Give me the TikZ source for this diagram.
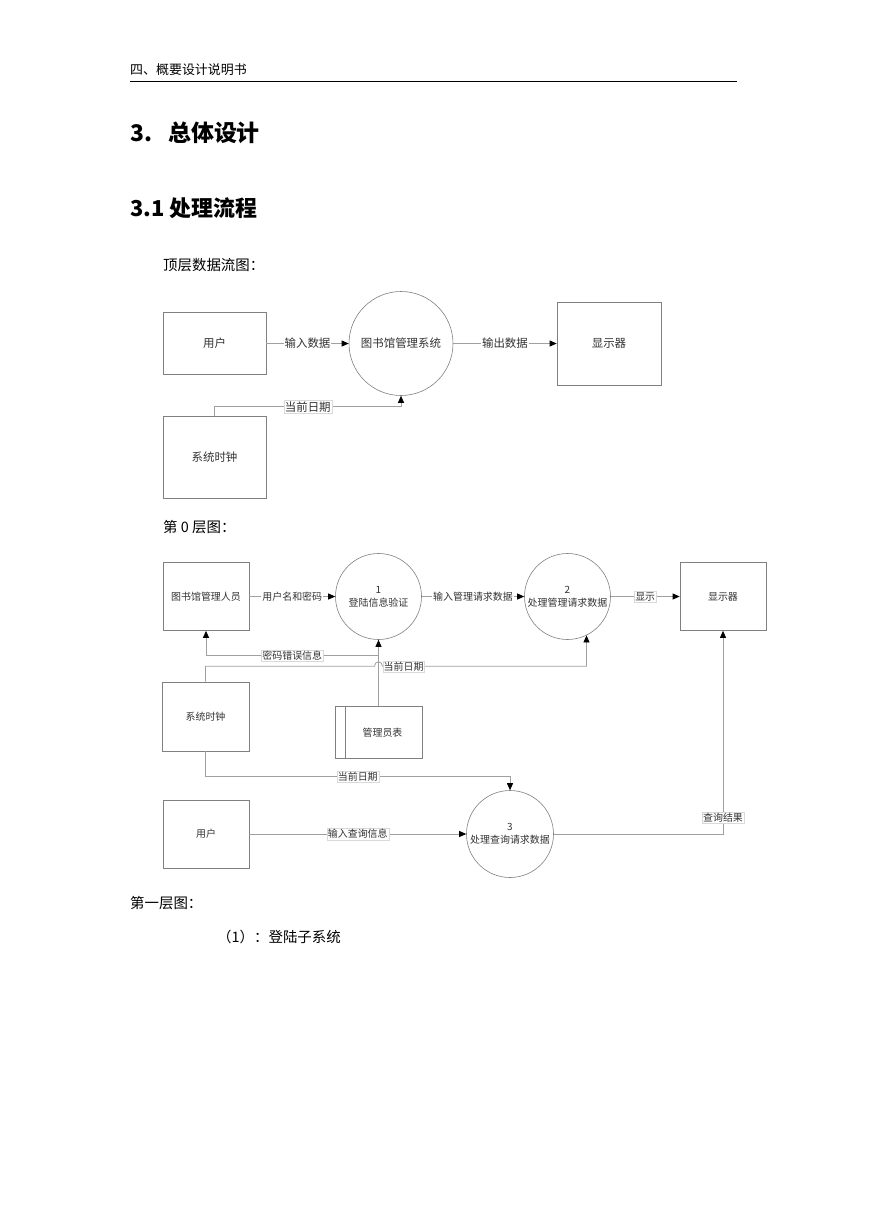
\documentclass[tikz,border=0pt]{standalone}
\usepackage{fontspec}
\setmainfont{Noto Sans CJK SC}
\usetikzlibrary{arrows.meta,positioning,calc}
\definecolor{linegray}{HTML}{A0A0A0}
\definecolor{boxgray}{HTML}{808080}
\definecolor{txtgray}{HTML}{333333}
\tikzset{>={Triangle[length=7bp,width=6bp]}}
\tikzset{entity/.style={draw=boxgray,line width=0.7pt,text=txtgray,inner sep=0pt},
         proc/.style={circle,draw=boxgray,line width=0.6pt,text=txtgray,inner sep=0pt,align=center},
         flow/.style={draw=linegray,line width=0.8pt,-{Triangle[length=7bp,width=6bp,color=black]}},
         lab/.style={fill=white,draw=gray!30,line width=0.3pt,inner sep=1pt,text=txtgray},
         big/.style={font=\fontsize{11.5}{13}\selectfont},
         small/.style={font=\fontsize{10}{13}\selectfont},
         plain text/.style={anchor=west,inner sep=0pt},
            }

\begin{document}
\begin{tikzpicture}[x=1bp,y=-1bp]
    \useasboundingbox[fill=white] (0,0) rectangle (869,1228);

    % page header and headings
    \node[plain text,font=\fontsize{13}{15}\selectfont] (hdr) at (130,70) {四、概要设计说明书};
    \draw[line width=1bp] (130,81) -- (737,81);
    \node[plain text,font=\fontsize{23}{26}\selectfont\bfseries] (sec) at (130,133) {3.\hspace{16bp}总体设计};
    \node[plain text,font=\fontsize{22}{25}\selectfont\bfseries] (sub) at (130,208) {3.1 处理流程};
    \node[plain text,font=\fontsize{14.5}{17}\selectfont] (cap1) at (163,265) {顶层数据流图：};

    % top level
    \node[entity,big,minimum width=103bp,minimum height=62bp] (user) at (214.5,343.5) {用户};
    \node[proc,big,minimum size=104bp] (sys) at (401,343.5) {图书馆管理系统};
    \node[entity,big,minimum width=104bp,minimum height=83bp] (disp) at (609,343.5) {显示器};
    \node[entity,big,minimum width=103bp,minimum height=82bp] (clk) at (214.5,457) {系统时钟};

    \path[flow]
    (user) edge node[lab,big,draw=none] {输入数据} (sys)
    (sys) edge node[lab,big,draw=none] {输出数据} (disp);
    \draw[flow] (clk.north) -- ++(0,-9) -| node[lab,big,pos=0.25] {当前日期} (sys.south);

    \node[plain text,font=\fontsize{14.5}{17}\selectfont] (cap2) at (163,527) {第 0 层图：};

    % level 0
    \node[entity,small,minimum width=86bp,minimum height=68bp] (adm) at (206,596.5) {图书馆管理人员};
    \node[proc,small,minimum size=86bp] (c1) at (378.5,596.5) {1\\登陆信息验证};
    \node[proc,small,minimum size=86bp] (c2) at (567.5,596.5) {2\\处理管理请求数据};
    \node[entity,small,minimum width=86bp,minimum height=68bp] (disp0) at (723,596.5) {显示器};
    \node[entity,small,minimum width=87bp,minimum height=69bp] (clk0) at (205.5,716.5) {系统时钟};
    \node[entity,small,minimum width=87bp,minimum height=52bp] (tbl) at (378.5,732.5) {\hspace{8bp}管理员表};
    \draw[boxgray,line width=0.7pt] ([xshift=11bp]tbl.north west) -- ([xshift=11bp]tbl.south west);
    \node[entity,small,minimum width=86bp,minimum height=68bp] (user0) at (206,834) {用户};
    \node[proc,small,minimum size=87bp] (c3) at (510,834) {3\\处理查询请求数据};

    \path[flow]
    (adm) edge node[lab,small,draw=none] {用户名和密码} (c1)
    (c1) edge node[lab,small,draw=none] {输入管理请求数据} (c2)
    (c2) edge node[lab,small] {显示} (disp0)
    (user0) edge node[lab,small] {输入查询信息} (c3);

    \coordinate (jmp) at ($(c1.south)+(0,26.5)$);
    \draw[flow] (c1.south) -- ++(0,16) -| node[lab,small,pos=0.25] {密码错误信息} (adm.south);
    \draw[flow] (tbl.north) -- (c1.south);
    \draw[flow] (clk0.north) |- ([xshift=-4bp]jmp)
        .. controls +(0,-6) and +(0,-6) .. ([xshift=4bp]jmp)
        -| node[lab,small,anchor=west,pos=0] {当前日期} (c2.-64);
    \draw[flow] (clk0.south) -- ++(0,25) -| node[lab,small,pos=0.25] {当前日期} (c3.north);
    \draw[flow] (c3.east) -| node[lab,small,pos=0.54] {查询结果} (disp0.south);

    \node[plain text,font=\fontsize{14.5}{17}\selectfont] (cap3) at (130,903) {第一层图：};
    \node[plain text,font=\fontsize{14.5}{17}\selectfont] (cap4) at (217,937) {（1）：登陆子系统};

\end{tikzpicture}
\end{document}
